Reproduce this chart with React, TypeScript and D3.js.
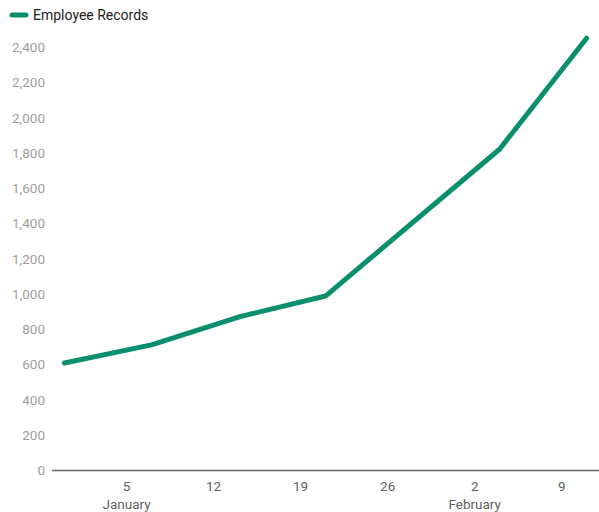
import React from "react";
import * as d3 from "d3";

const seriesName = "Employee Records";
const dates = ["2023-12-31", "2024-01-07", "2024-01-14", "2024-01-21", "2024-02-04", "2024-02-11"];
const values = [607, 710, 868, 987, 1820, 2450];
const yTicks = [0, 200, 400, 600, 800, 1000, 1200, 1400, 1600, 1800, 2000, 2200, 2400];
const xTickDates = ["2024-01-05", "2024-01-12", "2024-01-19", "2024-01-26", "2024-02-02", "2024-02-09"];
const monthLabels = [
  { date: "2024-01-05", label: "January" },
  { date: "2024-02-02", label: "February" },
];

const W = 599;
const H = 512;
const FONT = "Roboto, 'Noto Sans', sans-serif";
const LINE = "#0a8f6d";

const parse = d3.utcParse("%Y-%m-%d");

export default function App() {
  const x = d3
    .scaleUtc()
    .domain([parse("2023-12-30")!, parse("2024-02-12")!])
    .range([52, 599]);
  const y = d3.scaleLinear().domain([0, 2400]).range([470, 47]);

  const pts = dates.map((d, i) => [x(parse(d)!), y(values[i])] as [number, number]);
  const path = d3.line()(pts) || "";

  return (
    <svg
      width={W}
      height={H}
      style={{ position: "absolute", left: 0, top: 0, background: "#fff" }}
      fontFamily={FONT}
    >
      {/* legend */}
      <line x1={12} x2={26} y1={15} y2={15} stroke={LINE} strokeWidth={5} strokeLinecap="round" />
      <text x={33} y={20} fontSize={14} fill="#222">
        {seriesName}
      </text>

      {/* y axis labels */}
      {yTicks.map((t) => (
        <text key={t} x={45} y={y(t) + 5} textAnchor="end" fontSize={13.5} fill="#9e9e9e">
          {d3.format(",")(t)}
        </text>
      ))}

      {/* baseline */}
      <line x1={52} x2={599} y1={470.5} y2={470.5} stroke="#666" strokeWidth={1.5} />

      {/* x ticks */}
      {xTickDates.map((d) => (
        <text key={d} x={x(parse(d)!)} y={491} textAnchor="middle" fontSize={13.5} fill="#616161">
          {d3.utcFormat("%-d")(parse(d)!)}
        </text>
      ))}
      {monthLabels.map((m) => (
        <text key={m.label} x={x(parse(m.date)!)} y={509} textAnchor="middle" fontSize={13.5} fill="#616161">
          {m.label}
        </text>
      ))}

      {/* series line */}
      <path d={path} fill="none" stroke={LINE} strokeWidth={5} strokeLinejoin="round" strokeLinecap="round" />
    </svg>
  );
}
